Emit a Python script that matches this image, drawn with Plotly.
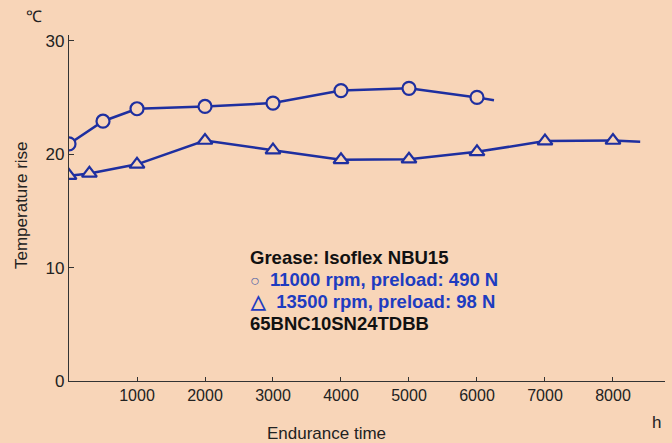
import plotly.graph_objects as go

# Data
t_circle = [0, 500, 1000, 2000, 3000, 4000, 5000, 6000]
v_circle = [20.9, 22.9, 24.0, 24.2, 24.5, 25.6, 25.8, 25.0]
circle_end_t = [6000, 6250]
circle_end_v = [25.0, 24.75]

t_tri = [0, 300, 1000, 2000, 3000, 4000, 5000, 6000, 7000, 8000]
v_tri = [18.1, 18.3, 19.1, 21.2, 20.35, 19.5, 19.55, 20.2, 21.15, 21.2]
tri_end_t = [8000, 8400]
tri_end_v = [21.2, 21.1]

x_ticks = [1000, 2000, 3000, 4000, 5000, 6000, 7000, 8000]
y_ticks = [0, 10, 20, 30]

legend_lines = [
    ("<b>Grease: Isoflex NBU15</b>", "#111111"),
    ("<span style='font-size:16px;color:#5868A8'>○</span>  <b>11000 rpm, preload: 490 N</b>", "#1E3CC0"),
    ("<b>△  13500 rpm, preload: 98 N</b>", "#1E3CC0"),
    ("<b>65BNC10SN24TDBB</b>", "#111111"),
]

BG = "#F8D5B8"
LINE = "#1E2FA0"
FONT = "Liberation Sans, Arial, sans-serif"

W, H = 672, 443
ML, MR, MT, MB = 69, 7, 35, 62
PW, PH = W - ML - MR, H - MT - MB


def px(x, y):
    """pixel (from top-left) -> paper coords"""
    return (x - ML) / PW, (H - y - MB) / PH


fig = go.Figure()
fig.add_trace(go.Scatter(x=circle_end_t, y=circle_end_v, mode="lines",
                         line=dict(color=LINE, width=2.5), hoverinfo="skip"))
fig.add_trace(go.Scatter(x=tri_end_t, y=tri_end_v, mode="lines",
                         line=dict(color=LINE, width=2.5), hoverinfo="skip"))
fig.add_trace(go.Scatter(x=t_circle, y=v_circle, mode="lines+markers",
                         line=dict(color=LINE, width=2.5),
                         marker=dict(symbol="circle", size=13, color=BG,
                                     line=dict(color=LINE, width=2.2))))
fig.add_trace(go.Scatter(x=t_tri, y=v_tri, mode="lines+markers",
                         line=dict(color=LINE, width=2.5),
                         marker=dict(symbol="triangle-up", size=13, color=BG,
                                     line=dict(color=LINE, width=2.2))))

fig.update_layout(
    width=W, height=H,
    paper_bgcolor=BG, plot_bgcolor=BG,
    margin=dict(l=ML, r=MR, t=MT, b=MB, autoexpand=False),
    showlegend=False,
    font=dict(family=FONT, color="#222222"),
    xaxis=dict(range=[0, 8765], tickvals=x_ticks,
               ticktext=[str(v) for v in x_ticks],
               ticks="inside", ticklen=4, tickcolor="#333333", tickwidth=1,
               showline=True, linecolor="#333333", linewidth=1.2,
               showgrid=False, zeroline=False, automargin=False,
               tickfont=dict(size=16, color="#222222")),
    yaxis=dict(range=[0, 30.5], tickvals=y_ticks,
               ticktext=[str(v) for v in y_ticks],
               ticks="inside", ticklen=5, tickcolor="#333333", tickwidth=1,
               showline=True, linecolor="#333333", linewidth=1.2,
               showgrid=False, zeroline=False, automargin=False,
               tickfont=dict(size=17, color="#222222")),
)


def add_text(txt, x, y, size=16, color="#222222", xanchor="center", angle=0, family=FONT):
    ax, ay = px(x, y)
    fig.add_annotation(text=txt, x=ax, y=ay, xref="paper", yref="paper",
                       xanchor=xanchor, yanchor="middle", textangle=angle,
                       showarrow=False, font=dict(size=size, family=family, color=color))


add_text("℃", 34, 17)
add_text("h", 656, 422, size=17)
add_text("Endurance time", 326, 433, size=17)
add_text("Temperature rise", 21, 205, size=17, angle=-90)

for i, (txt, col) in enumerate(legend_lines):
    add_text(txt, 248, 257 + 22 * i, size=18.5, color=col, xanchor="left")

fig.write_html("out.html", config={"displayModeBar": False},
               post_script="document.body.style.margin='0';")
